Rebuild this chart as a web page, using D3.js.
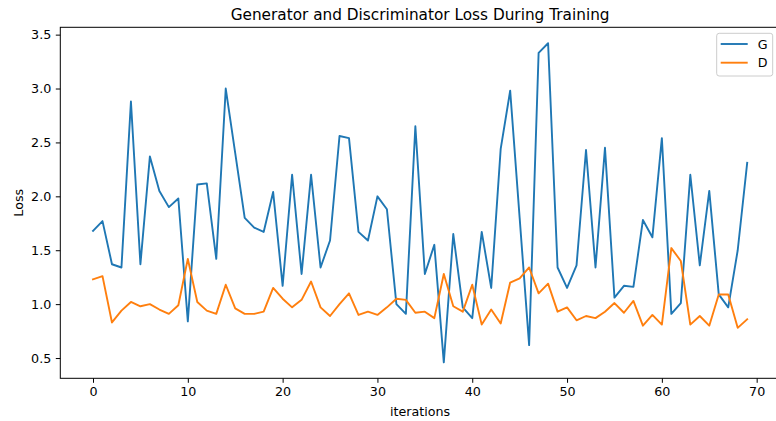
<!DOCTYPE html>
<html>
<head>
<meta charset="utf-8">
<script src="https://cdn.jsdelivr.net/npm/d3@7"></script>
<style>
    body { margin: 0; background: #fff; }
    text { font-family: "DejaVu Sans", sans-serif; fill: #000; }
    .line { fill: none; stroke-width: 1.9; stroke-linejoin: round; stroke-linecap: square; }
    .line.g { stroke: #1f77b4; }
    .line.d { stroke: #ff7f0e; }
</style>
</head>
<body>
<svg id="loss-chart"></svg>
<script>
const TITLE = "Generator and Discriminator Loss During Training";
const SERIES_NAMES = ["G", "D"];
const X_TICKS = [0, 10, 20, 30, 40, 50, 60, 70];
const Y_TICKS = [0.5, 1.0, 1.5, 2.0, 2.5, 3.0, 3.5];

// generator loss per iteration
const G_LOSS = [1.68, 1.77, 1.37, 1.34, 2.88, 1.37, 2.37, 2.05, 1.90, 1.98,
                0.84, 2.11, 2.12, 1.42, 3.00, 2.40, 1.80, 1.71, 1.67, 2.04,
                1.17, 2.20, 1.28, 2.20, 1.34, 1.59, 2.56, 2.54, 1.67, 1.59,
                2.00, 1.88, 1.00, 0.91, 2.65, 1.28, 1.55, 0.46, 1.65, 0.97,
                0.87, 1.67, 1.15, 2.44, 2.98, 1.80, 0.62, 3.33, 3.42, 1.34,
                1.15, 1.36, 2.43, 1.34, 2.45, 1.06, 1.17, 1.16, 1.78, 1.62,
                2.54, 0.91, 1.01, 2.20, 1.36, 2.05, 1.09, 0.97, 1.50, 2.31];

// discriminator loss per iteration
const D_LOSS = [1.23, 1.26, 0.83, 0.94, 1.02, 0.98, 1.00, 0.95, 0.91, 0.99,
                1.42, 1.02, 0.94, 0.91, 1.18, 0.96, 0.91, 0.91, 0.93, 1.15,
                1.05, 0.97, 1.04, 1.21, 0.97, 0.89, 1.00, 1.10, 0.90, 0.93,
                0.90, 0.97, 1.05, 1.04, 0.92, 0.93, 0.87, 1.28, 0.98, 0.93,
                1.18, 0.81, 0.95, 0.82, 1.20, 1.24, 1.34, 1.10, 1.19, 0.93,
                0.97, 0.85, 0.89, 0.87, 0.93, 1.01, 0.92, 1.03, 0.80, 0.90,
                0.81, 1.52, 1.40, 0.81, 0.89, 0.80, 1.09, 1.09, 0.78, 0.86];

const W = 776, H = 421;
const margin = {top: 27.3, right: -3.9, bottom: 42.7, left: 60.3};
const width = W - margin.left - margin.right;
const height = H - margin.top - margin.bottom;
const FONT = 12.7; // 10pt at this figure's dpi

// matplotlib style 5% padding around the data
function padded(lo, hi) {
    const pad = (hi - lo) * 0.05;
    return [lo - pad, hi + pad];
}

const n = G_LOSS.length;
const allLoss = G_LOSS.concat(D_LOSS);

const xScale = d3.scaleLinear()
    .domain(padded(0, n - 1))
    .range([0, width]);
const yScale = d3.scaleLinear()
    .domain(padded(d3.min(allLoss), d3.max(allLoss)))
    .range([height, 0]);

const svg = d3.select("#loss-chart")
    .attr("width", W)
    .attr("height", H);

const g = svg.append("g")
    .attr("transform", "translate(" + margin.left + "," + margin.top + ")");

// lines first, frame on top
const line = d3.line()
    .x(function(d, i) { return xScale(i); })
    .y(function(d) { return yScale(d); });

g.append("path")
    .datum(G_LOSS)
    .attr("class", "line g")
    .attr("d", line);

g.append("path")
    .datum(D_LOSS)
    .attr("class", "line d")
    .attr("d", line);

// x axis
const xAxis = g.append("g")
    .attr("transform", "translate(0," + height + ")")
    .call(d3.axisBottom(xScale)
        .tickValues(X_TICKS)
        .tickFormat(d3.format("d"))
        .tickSize(4.5)
        .tickPadding(4));

// y axis
const yAxis = g.append("g")
    .call(d3.axisLeft(yScale)
        .tickValues(Y_TICKS)
        .tickFormat(d3.format(".1f"))
        .tickSize(4.5)
        .tickPadding(4.5));

[xAxis, yAxis].forEach(function(ax) {
    ax.select(".domain").remove();
    ax.selectAll("line").attr("stroke", "#000").attr("stroke-width", 1);
    ax.selectAll("text")
        .style("font-family", '"DejaVu Sans", sans-serif')
        .style("font-size", FONT + "px")
        .attr("fill", "#000");
});

// frame
g.append("rect")
    .attr("width", width)
    .attr("height", height)
    .attr("fill", "none")
    .attr("stroke", "#000")
    .attr("stroke-width", 1);

// title and axis labels
svg.append("text")
    .attr("x", margin.left + width / 2)
    .attr("y", 19.5)
    .attr("text-anchor", "middle")
    .style("font-size", "15.3px")
    .text(TITLE);

svg.append("text")
    .attr("x", margin.left + width / 2)
    .attr("y", 416)
    .attr("text-anchor", "middle")
    .style("font-size", FONT + "px")
    .text("iterations");

svg.append("text")
    .attr("transform", "translate(23," + (margin.top + height / 2) + ") rotate(-90)")
    .attr("text-anchor", "middle")
    .style("font-size", FONT + "px")
    .text("Loss");

// legend, upper right
const legend = svg.append("g")
    .attr("transform", "translate(716.7,33.3)");

legend.append("rect")
    .attr("width", 56)
    .attr("height", 42.7)
    .attr("rx", 2.5)
    .attr("fill", "#fff")
    .attr("fill-opacity", 0.8)
    .attr("stroke", "#cccccc")
    .attr("stroke-width", 1);

const colors = ["#1f77b4", "#ff7f0e"];
const rows = legend.selectAll(".row")
    .data(SERIES_NAMES)
  .enter().append("g")
    .attr("class", "row")
    .attr("transform", function(d, i) { return "translate(0," + (10.7 + i * 18.7) + ")"; });

rows.append("line")
    .attr("x1", 4)
    .attr("x2", 31)
    .attr("stroke", function(d, i) { return colors[i]; })
    .attr("stroke-width", 1.9);

rows.append("text")
    .attr("x", 41)
    .attr("dy", "0.36em")
    .style("font-size", FONT + "px")
    .text(function(d) { return d; });
</script>
</body>
</html>
